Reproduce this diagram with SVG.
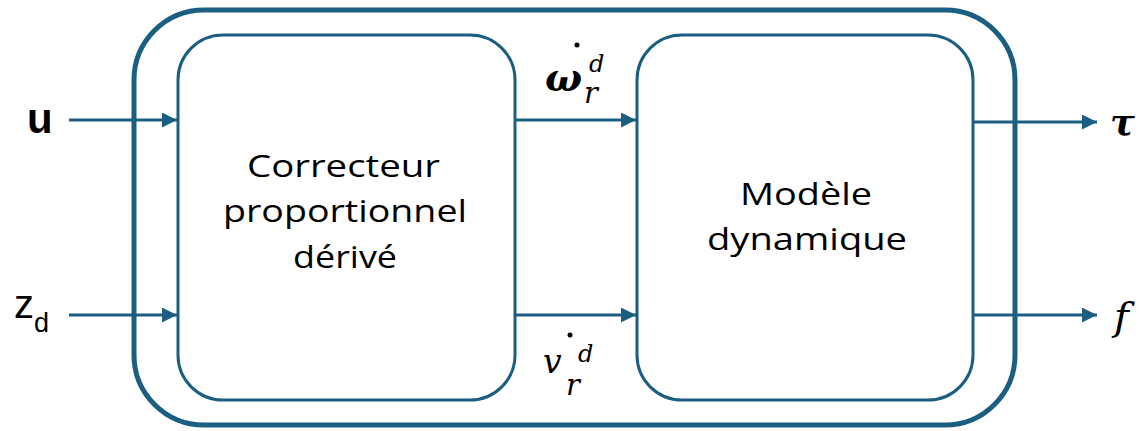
<svg xmlns="http://www.w3.org/2000/svg" width="1141" height="431" viewBox="0 0 1141 431">
  <defs>
    <marker id="arr" viewBox="0 0 10 10" refX="10" refY="5" markerWidth="5" markerHeight="5" markerUnits="strokeWidth" orient="auto">
      <path d="M0,0 L10,5 L0,10 z" fill="#1a5f82"/>
    </marker>
    <style>
      .frame { fill: none; stroke: #1a5f82; }
      .wire { fill: none; stroke: #1a5f82; stroke-width: 3; marker-end: url(#arr); }
      .lbl { font-family: "Open Sans", "Liberation Sans", sans-serif; font-size: 31px; fill: #000; }
      .math { font-family: "DejaVu Serif", "Liberation Serif", serif; font-style: italic; fill: #000; }
    </style>
  </defs>

  <!-- enclosing system block -->
  <g id="system">
    <rect class="frame" x="134" y="10" width="881" height="415" rx="70" ry="70" stroke-width="5"/>
  </g>

  <!-- PD controller -->
  <g id="pd">
    <rect class="frame" x="178" y="35" width="337" height="365" rx="45" ry="45" stroke-width="3"/>
    <text class="lbl" x="247" y="177" textLength="193" lengthAdjust="spacingAndGlyphs">Correcteur</text>
    <text class="lbl" x="223" y="222" textLength="244" lengthAdjust="spacingAndGlyphs">proportionnel</text>
    <text class="lbl" x="293" y="268" textLength="104" lengthAdjust="spacingAndGlyphs">dérivé</text>
  </g>

  <!-- dynamic model -->
  <g id="model">
    <rect class="frame" x="637" y="35" width="336" height="365" rx="45" ry="45" stroke-width="3"/>
    <text class="lbl" x="740" y="205" textLength="132" lengthAdjust="spacingAndGlyphs">Modèle</text>
    <text class="lbl" x="707" y="250" textLength="200" lengthAdjust="spacingAndGlyphs">dynamique</text>
  </g>

  <!-- signals -->
  <g id="connectors">
    <line class="wire" x1="69" y1="120" x2="177" y2="120"/>
    <line class="wire" x1="69" y1="315" x2="177" y2="315"/>
    <line class="wire" x1="515" y1="120" x2="636" y2="120"/>
    <line class="wire" x1="515" y1="315" x2="636" y2="315"/>
    <line class="wire" x1="973" y1="122" x2="1097" y2="122"/>
    <line class="wire" x1="973" y1="315" x2="1097" y2="315"/>
  </g>

  <!-- signal labels -->
  <g id="labels">
    <text x="27" y="133" font-family="Liberation Sans, Arial, sans-serif" font-weight="bold" font-size="42">u</text>
    <text x="14" y="318" font-family="Liberation Sans, Arial, sans-serif" font-size="40">z<tspan font-size="27" dy="14">d</tspan></text>

    <text class="math" x="545" y="91" font-size="39" font-weight="bold">ω</text>
    <circle cx="577" cy="45" r="2.5" fill="#000"/>
    <text class="math" x="589" y="72" font-size="24">d</text>
    <text class="math" x="584" y="103" font-size="29">r</text>

    <text class="math" x="543" y="373" font-size="33">v</text>
    <circle cx="570" cy="335" r="2.5" fill="#000"/>
    <text class="math" x="578" y="362" font-size="24">d</text>
    <text class="math" x="566" y="395" font-size="29">r</text>

    <text class="math" x="1110" y="135" font-size="37" font-weight="bold">τ</text>
    <text class="math" x="1114" y="330" font-size="40">f</text>
  </g>
</svg>
